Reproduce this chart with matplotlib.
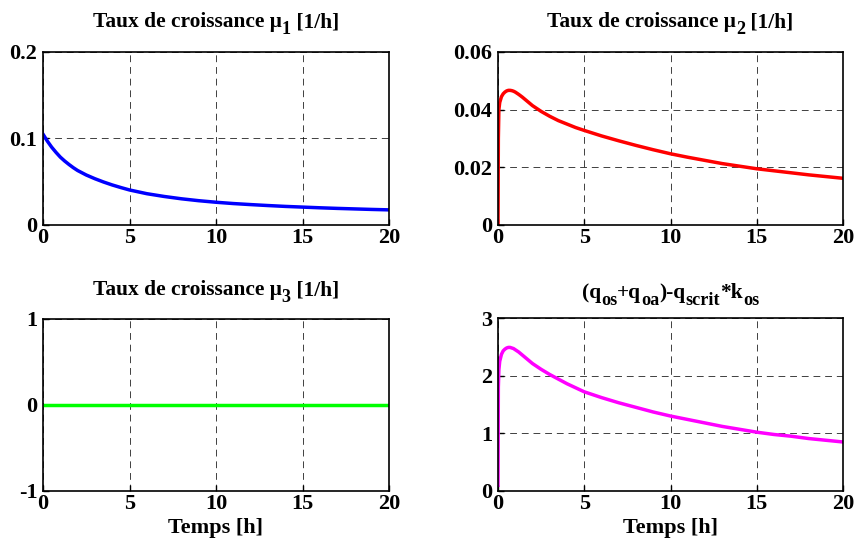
import numpy as np
import matplotlib
matplotlib.use("Agg")
from matplotlib import pyplot as plt

plt.rcParams['font.family'] = ['Liberation Serif', 'DejaVu Serif']
plt.rcParams['font.weight'] = 'bold'

# time samples [h] and values
t_mu1 = [0, 0.25, 0.5, 0.75, 1, 1.25, 1.5, 1.75, 2, 2.5, 3, 3.5, 4, 4.5, 5, 6,
         7, 8, 9, 10, 11, 12, 13, 14, 15, 16, 17, 18, 19, 20]
mu1 = [0.105, 0.097, 0.090, 0.084, 0.0785, 0.074, 0.0700, 0.0663, 0.0630,
       0.0578, 0.0535, 0.0497, 0.0463, 0.0433, 0.0405, 0.0362, 0.0330, 0.0303,
       0.0281, 0.0263, 0.0248, 0.0236, 0.0225, 0.0215, 0.0207, 0.0199, 0.0192,
       0.0186, 0.018, 0.0175]

t_mu2 = [0, 0.02, 0.05, 0.1, 0.2, 0.3, 0.4, 0.5, 0.6, 0.7, 0.8, 0.9, 1.0, 1.2,
         1.4, 1.6, 1.8, 2, 2.5, 3, 3.5, 4, 4.5, 5, 6, 7, 8, 9, 10, 11, 12, 13,
         14, 15, 16, 17, 18, 19, 20]
mu2 = [0, 0.030, 0.040, 0.0425, 0.0445, 0.0455, 0.0461, 0.0465, 0.0467, 0.0467,
       0.0466, 0.0464, 0.0461, 0.0453, 0.0444, 0.0434, 0.0424, 0.0414, 0.0394,
       0.0377, 0.0362, 0.0350, 0.0338, 0.0328, 0.0309, 0.0292, 0.0276, 0.0261,
       0.0247, 0.0235, 0.0224, 0.0213, 0.0204, 0.0195, 0.0188, 0.0181, 0.0174,
       0.0168, 0.0162]

t_mu3 = [0, 20]
mu3 = [0, 0]

t_q = t_mu2
q = [0.1, 1.8, 2.1, 2.25, 2.37, 2.43, 2.46, 2.48, 2.49, 2.49, 2.48, 2.47, 2.45,
     2.41, 2.36, 2.31, 2.26, 2.21, 2.11, 2.02, 1.94, 1.86, 1.79, 1.72, 1.62,
     1.53, 1.45, 1.37, 1.30, 1.24, 1.18, 1.12, 1.07, 1.02, 0.98, 0.95, 0.91,
     0.88, 0.85]

fig = plt.figure(figsize=(8.56, 5.41), dpi=100)
W, H = 856, 541

def make_ax(x0, y0, x1, y1):
    return fig.add_axes([x0 / W, 1 - y1 / H, (x1 - x0) / W, (y1 - y0) / H])

axes = [make_ax(43, 52, 389, 225), make_ax(498, 52, 843, 225),
        make_ax(43, 319, 389, 491), make_ax(498, 318, 843, 491)]

# title pieces: (text, is_subscript)
titles = [
    [('Taux de croissance μ', 0), ('1', 1), (' [1/h]', 0)],
    [('Taux de croissance μ', 0), ('2', 1), (' [1/h]', 0)],
    [('Taux de croissance μ', 0), ('3', 1), (' [1/h]', 0)],
    [('(q', 0), ('os', 1), ('+q', 0), ('oa', 1), (')-q', 0), ('scrit', 1),
     ('*k', 0), ('os', 1)],
]
title_base = [27, 27, 295, 298]

panels = [
    (t_mu1, mu1, (0, 0, 1), (0, 0.2), [0, 0.1, 0.2], ['0', '0.1', '0.2']),
    (t_mu2, mu2, (1, 0, 0), (0, 0.06), [0, 0.02, 0.04, 0.06], ['0', '0.02', '0.04', '0.06']),
    (t_mu3, mu3, (0, 1, 0), (-1, 1), [-1, 0, 1], ['-1', '0', '1']),
    (t_q, q, (1, 0, 1), (0, 3), [0, 1, 2, 3], ['0', '1', '2', '3']),
]

renderer = fig.canvas.get_renderer()

def rich_title(ax, pieces, base_px, size=15.4):
    txts = []
    for s, sub in pieces:
        fs = size * 0.85 if sub else size
        t = fig.text(0, 0, s, fontsize=fs, fontweight='bold', va='baseline', ha='left')
        txts.append((t, sub, t.get_window_extent(renderer).width))
    total = sum(w for _, _, w in txts)
    pos = ax.get_position()
    x = (pos.x0 + pos.x1) / 2 * W - total / 2
    for t, sub, w in txts:
        y = base_px + (7 if sub else 0)
        t.set_position((x / W, 1 - y / H))
        x += w

for i, (ax, (t, y, c, ylim, yt, ytl)) in enumerate(zip(axes, panels)):
    ax.plot(t, y, color=c, lw=2.5)
    ax.set_xlim(0, 20)
    ax.set_ylim(*ylim)
    ax.set_xticks([0, 5, 10, 15, 20])
    ax.set_xticklabels(['0', '5', '10', '15', '20'])
    ax.set_yticks(yt)
    ax.set_yticklabels(ytl)
    ax.tick_params(direction='in', length=4, labelsize=16, width=1)
    ax.tick_params(axis='x', pad=2)
    ax.tick_params(axis='y', pad=4)
    ax.grid(True, color='black', linestyle=(0, (7, 5)), lw=0.7, alpha=0.75)
    for s in ax.spines.values():
        s.set_linewidth(1.2)
    rich_title(ax, titles[i], title_base[i])
    if i >= 2:
        ax.set_xlabel('Temps [h]', fontsize=16, fontweight='bold', labelpad=3)

fig.savefig('out.png', dpi=100)
